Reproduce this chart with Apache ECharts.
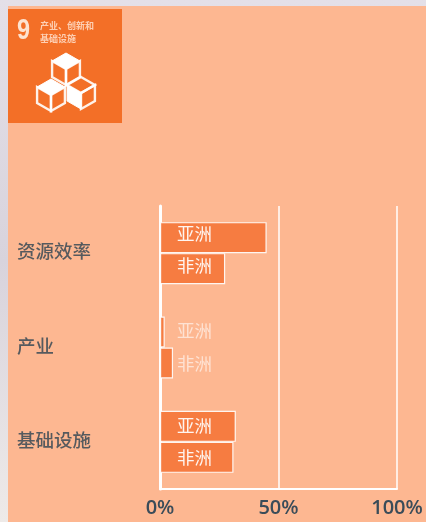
<!DOCTYPE html>
<html>
<head>
<meta charset="utf-8">
<style>
html,body{margin:0;padding:0;width:426px;height:522px;overflow:hidden;background:linear-gradient(180deg,#e4e0e8 0%,#d8d3dc 50%,#eeeae8 100%);}
#bg{position:absolute;left:8px;top:6px;width:418px;height:516px;background:#fdb791;}
#main{position:absolute;left:0;top:0;width:426px;height:522px;}
</style>
<script src="https://cdn.jsdelivr.net/npm/echarts@6/dist/echarts.min.js"></script>
</head>
<body>
<div id="bg"></div>
<div id="main"></div>
<script>
var categories = ["资源效率", "产业", "基础设施"];
var seriesNames = ["亚洲", "非洲"];
var asiaValues = [45, 2, 32];
var africaValues = [27.5, 5.5, 31];
var tickLabels = {0: "0%", 50: "50%", 100: "100%"};

var mycharts = echarts.init(document.getElementById("main"));

// small bars get a paler label, as in the picture
function buildData(values, nudge){
	var result = [];
	for(var i = 0; i < values.length; i++){
		result.push({
			value : values[i],
			label : {
				color : values[i] < 10 ? "rgba(255,255,255,0.6)" : "rgba(255,255,255,0.92)",
				offset : [0, nudge[i]]
			}
		});
	}
	return result;
}

function buildSeries(name, values, nudge){
	return {
		name : name,
		type : "bar",
		barWidth : 31,
		barGap : 0,
		data : buildData(values, nudge),
		itemStyle : {color : "#f67c41", borderColor : "rgba(255,255,255,0.9)", borderWidth : 1.2},
		label : {
			show : true,
			position : "insideLeft",
			distance : 17,
			formatter : "{a}",
			fontSize : 17.5,
			fontFamily : "Noto Sans CJK SC"
		}
	};
}

// sdg 9 badge: one isometric cube
function cube(cx, cy, s, fillFace){
	var w = s * 0.87, h = s * 0.5;
	var els = [];
	var line = {stroke : "#fff", lineWidth : 2.4, fill : null, opacity : 0.9};
	var faces = {
		top : [[cx, cy - s], [cx + w, cy - h], [cx, cy], [cx - w, cy - h]],
		left : [[cx - w, cy - h], [cx, cy], [cx, cy + s], [cx - w, cy + h]],
		right : [[cx + w, cy - h], [cx, cy], [cx, cy + s], [cx + w, cy + h]]
	};
	for(var k in faces){
		els.push({
			type : "polygon",
			shape : {points : faces[k]},
			style : k === fillFace ? {fill : "#fff", stroke : "#fff", lineWidth : 1} : line
		});
	}
	return els;
}

var graphics = [{type : "rect", shape : {x : 8, y : 9, width : 114, height : 114}, style : {fill : "#f36f27"}}];
graphics = graphics.concat(cube(81, 93, 16, "left"), cube(66, 69, 16, "top"), cube(51, 95, 16, "top"));
graphics.push({
	type : "text", x : 17, y : 16, scaleX : 0.78,
	style : {text : "9", fill : "#fde3d0", font : "bold 30px 'Liberation Sans'"}
});
graphics.push({
	type : "text", x : 40, y : 19,
	style : {text : "产业、创新和\n基础设施", fill : "rgba(255,225,205,0.85)", font : "bold 9px 'Noto Sans CJK SC'", lineHeight : 13}
});

var option = {
	animation : false,
	grid : {left : 160, right : 29, top : 206, height : 283, containLabel : false},
	xAxis : {
		type : "value",
		min : 0,
		max : 100,
		interval : 50,
		axisLine : {show : true, lineStyle : {color : "#fff", width : 2}},
		axisTick : {show : false},
		splitLine : {show : true, lineStyle : {color : "#fff", width : 1.5}},
		axisLabel : {
			margin : 9,
			color : "#3a4c59",
			fontSize : 20,
			fontWeight : 600,
			fontFamily : "Open Sans",
			formatter : function(v){ return tickLabels[v]; }
		}
	},
	yAxis : {
		type : "category",
		inverse : true,
		data : categories,
		axisLine : {show : true, lineStyle : {color : "#fff", width : 3}},
		axisTick : {show : false},
		axisLabel : {
			align : "left",
			verticalAlign : "bottom",
			lineHeight : 4,
			margin : 143,
			color : "#565a5e",
			fontSize : 18.5,
			fontWeight : 500,
			fontFamily : "Noto Sans CJK SC"
		}
	},
	series : [buildSeries(seriesNames[0], asiaValues, [-4, -2, -1]), buildSeries(seriesNames[1], africaValues, [-3, 0, 0])],
	graphic : graphics
};
mycharts.setOption(option);
</script>
</body>
</html>
